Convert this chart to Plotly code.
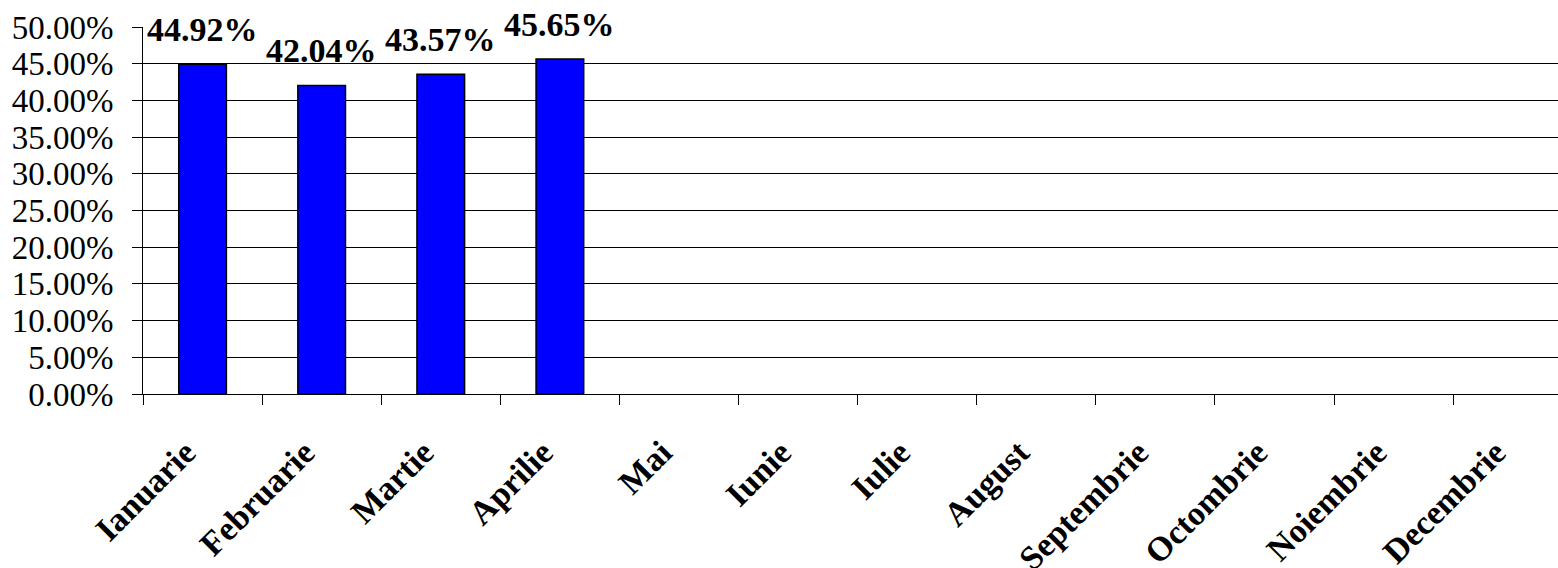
import plotly.graph_objects as go

months = ["Ianuarie", "Februarie", "Martie", "Aprilie", "Mai", "Iunie", "Iulie",
          "August", "Septembrie", "Octombrie", "Noiembrie", "Decembrie"]
values = [0.4492, 0.4204, 0.4357, 0.4565, None, None, None, None, None, None, None, None]
y_ticks = [0.0, 0.05, 0.10, 0.15, 0.20, 0.25, 0.30, 0.35, 0.40, 0.45, 0.50]

FONT = "Liberation Serif, Times New Roman, serif"

fig = go.Figure()
fig.add_trace(go.Bar(
    x=months, y=values,
    marker=dict(color="#0000FF", line=dict(color="#000000", width=1.5)),
    width=0.4,
    hoverinfo="skip",
))

annotations = []
for m, v in zip(months, values):
    if v is None:
        continue
    annotations.append(dict(
        x=m, y=v, xref="x", yref="y", text=f"{v*100:.2f}%",
        showarrow=False, yanchor="bottom", yshift=14,
        font=dict(family=FONT, size=34, color="#000000", weight="bold"),
    ))

fig.update_layout(
    width=1558, height=568,
    margin=dict(l=143, r=0, t=27, b=174, autoexpand=False),
    plot_bgcolor="#FFFFFF", paper_bgcolor="#FFFFFF",
    showlegend=False,
    annotations=annotations,
    bargap=0.6,
)
fig.update_xaxes(
    type="category", categoryorder="array", categoryarray=months,
    range=[-0.5, 11.38], automargin=False,
    tickson="boundaries", ticks="outside", ticklen=10, tickcolor="#000000", tickwidth=1,
    tickangle=-45, ticklabelstandoff=24, ticklabelshift=-17,
    tickfont=dict(family=FONT, size=34, color="#000000", weight="bold"),
    showline=True, linecolor="#000000", linewidth=1,
    showgrid=False, zeroline=False,
)
fig.update_yaxes(
    range=[0, 0.5], tickvals=y_ticks, tickformat=".2%", automargin=False,
    ticks="outside", ticklen=10, tickcolor="#000000", tickwidth=1,
    ticklabelstandoff=12,
    tickfont=dict(family=FONT, size=33, color="#000000"),
    showline=True, linecolor="#000000", linewidth=1,
    showgrid=True, gridcolor="#000000", gridwidth=1,
    zeroline=False,
)

fig.write_html("out.html", config={"displayModeBar": False})

with open("out.html", "r", encoding="utf-8") as f:
    html = f.read()
html = html.replace("<body>", '<body style="margin:0;overflow:hidden">', 1)
with open("out.html", "w", encoding="utf-8") as f:
    f.write(html)
